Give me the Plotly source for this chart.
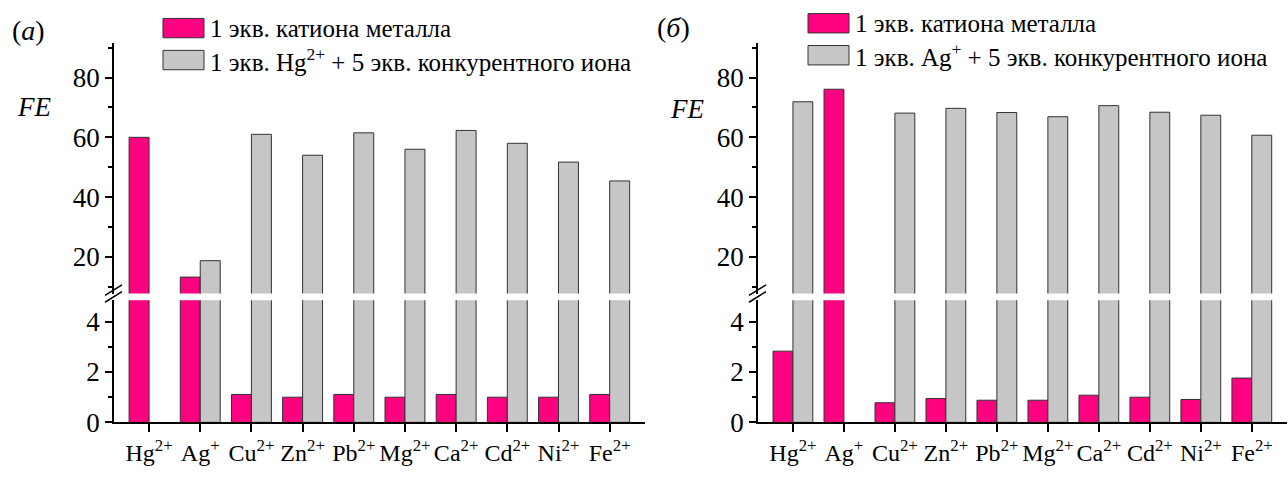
import plotly.graph_objects as go

ions = ["Hg<sup>2+</sup>", "Ag<sup>+</sup>", "Cu<sup>2+</sup>", "Zn<sup>2+</sup>", "Pb<sup>2+</sup>",
        "Mg<sup>2+</sup>", "Ca<sup>2+</sup>", "Cd<sup>2+</sup>", "Ni<sup>2+</sup>", "Fe<sup>2+</sup>"]

# panel (a)
a_metal = [60.0, 13.2, 1.11, 1.0, 1.11, 1.0, 1.11, 1.0, 1.0, 1.11]
a_compet = [None, 18.7, 61.0, 54.0, 61.5, 56.0, 62.3, 58.0, 51.7, 45.4]
# panel (б)
b_metal = [2.83, 76.1, 0.78, 0.95, 0.88, 0.88, 1.08, 1.0, 0.91, 1.76]
b_compet = [71.9, None, 68.1, 69.7, 68.3, 66.9, 70.6, 68.4, 67.4, 60.7]

legend_a = ["1 экв. катиона металла", "1 экв. Hg<sup>2+</sup> + 5 экв. конкурентного иона"]
legend_b = ["1 экв. катиона металла", "1 экв. Ag<sup>+</sup> + 5 экв. конкурентного иона"]

PINK = "#FF0080"
GRAY = "#C6C6C6"
EDGE = "#333333"
FONT = "'Liberation Serif', 'Times New Roman', 'DejaVu Serif', serif"
W, H = 1288, 480

def px(x):
    return x / W

def py(y):
    return 1 - y / H

fig = go.Figure()

panels = [
    (a_metal, a_compet, ("x", "y"), ("x2", "y2")),
    (b_metal, b_compet, ("x3", "y3"), ("x4", "y4")),
]
for metal, compet, low, up in panels:
    for xa, ya in (low, up):
        fig.add_trace(go.Bar(x=ions, y=metal, xaxis=xa, yaxis=ya, marker=dict(color=PINK, line=dict(color=EDGE, width=1)),
                             showlegend=False, offsetgroup="m"))
        fig.add_trace(go.Bar(x=ions, y=compet, xaxis=xa, yaxis=ya, marker=dict(color=GRAY, line=dict(color=EDGE, width=1)),
                             showlegend=False, offsetgroup="c"))

xrange = [-0.685, 9.69]
low_dom = [py(436), py(310)]
up_dom = [py(303), py(44)]
left_dom = [px(114), px(645)]
right_dom = [px(758), px(1287)]

tickfont = dict(family=FONT, size=27, color="black")
xtickfont = dict(family=FONT, size=24, color="black")

def xaxis_low(dom, anchor):
    return dict(domain=dom, range=xrange, anchor=anchor, showline=True, linecolor="black", linewidth=1.5,
                ticks="outside", ticklen=8, tickwidth=1.5, tickcolor="black", tickfont=xtickfont,
                showgrid=False, zeroline=False, type="category")

def xaxis_up(dom, anchor, match):
    return dict(domain=dom, range=xrange, anchor=anchor, showline=False, showticklabels=False, ticks="",
                showgrid=False, zeroline=False, matches=match, type="category")

def yaxis_low(anchor):
    return dict(domain=low_dom, range=[0, 4.85], anchor=anchor, showline=True, linecolor="black", linewidth=1.5,
                ticks="outside", ticklen=7, tickwidth=1.5, tickcolor="black", tickvals=[0, 2, 4],
                minor=dict(tickvals=[1, 3], ticks="outside", ticklen=4, tickwidth=1.5, tickcolor="black"),
                tickfont=tickfont, showgrid=False, zeroline=False)

def yaxis_up(anchor):
    return dict(domain=up_dom, range=[7.7, 91.7], anchor=anchor, showline=True, linecolor="black", linewidth=1.5,
                ticks="outside", ticklen=7, tickwidth=1.5, tickcolor="black", tickvals=[20, 40, 60, 80],
                minor=dict(tickvals=[10, 30, 50, 70, 90], ticks="outside", ticklen=4, tickwidth=1.5, tickcolor="black"),
                tickfont=tickfont, showgrid=False, zeroline=False)

fig.update_layout(
    width=W, height=H, margin=dict(l=0, r=0, t=0, b=0),
    paper_bgcolor="white", plot_bgcolor="white",
    font=dict(family=FONT, color="black"),
    barmode="group", bargap=0.22, bargroupgap=0,
    showlegend=False,
    xaxis=xaxis_low(left_dom, "y"),
    xaxis2=xaxis_up(left_dom, "y2", "x"),
    yaxis=yaxis_low("x"),
    yaxis2=yaxis_up("x2"),
    xaxis3=xaxis_low(right_dom, "y3"),
    xaxis4=xaxis_up(right_dom, "y4", "x3"),
    yaxis3=yaxis_low("x3"),
    yaxis4=yaxis_up("x4"),
)

shapes = []
annotations = []
for ax_x, leg_x, leg_y0, texts, label, label_xy, fe_xy in [
    (114, 163, 19, legend_a, "(<i>a</i>)", (10, 32), (15, 110)),
    (758, 808, 14, legend_b, "(<i>б</i>)", (655, 28), (668, 112)),
]:
    # axis break marks
    for dy in (0, 7):
        shapes.append(dict(type="line", xref="paper", yref="paper",
                           x0=px(ax_x - 9), y0=py(305 + dy), x1=px(ax_x + 8), y1=py(294 + dy),
                           line=dict(color="black", width=1.5)))
    # legend swatches and texts
    for i, (col, txt) in enumerate(zip([PINK, GRAY], texts)):
        y0 = leg_y0 + i * 33
        shapes.append(dict(type="rect", xref="paper", yref="paper",
                           x0=px(leg_x), x1=px(leg_x + 41), y0=py(y0), y1=py(y0 + 20),
                           fillcolor=col, line=dict(color=EDGE, width=1)))
        annotations.append(dict(xref="paper", yref="paper", x=px(leg_x + 45), y=py(y0 + 10),
                                xanchor="left", yanchor="middle", showarrow=False, text=txt,
                                font=dict(family=FONT, size=25, color="black")))
    annotations.append(dict(xref="paper", yref="paper", x=px(label_xy[0]), y=py(label_xy[1]),
                            xanchor="left", yanchor="middle", showarrow=False, text=label,
                            font=dict(family=FONT, size=28, color="black")))
    annotations.append(dict(xref="paper", yref="paper", x=px(fe_xy[0]), y=py(fe_xy[1]),
                            xanchor="left", yanchor="middle", showarrow=False, text="<i>FE</i>",
                            font=dict(family=FONT, size=27, color="black")))

fig.update_layout(shapes=shapes, annotations=annotations)
fig.write_html("out.html")
